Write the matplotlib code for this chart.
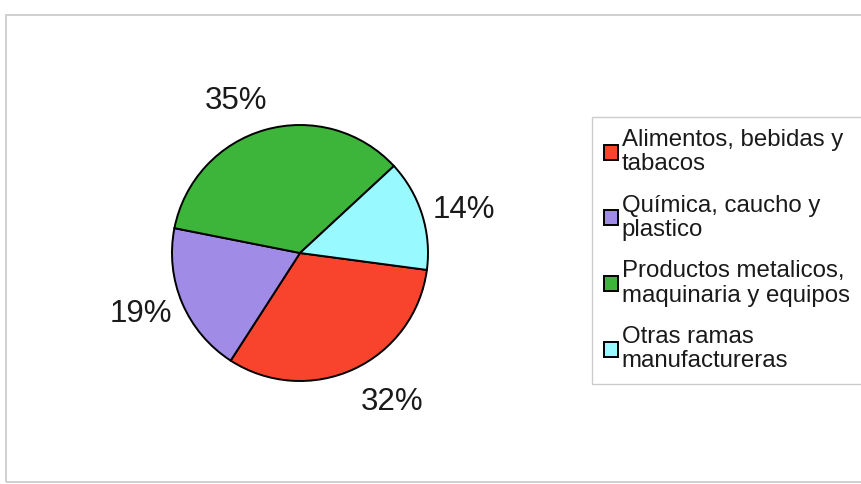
import matplotlib
matplotlib.use("Agg")
import numpy as np
import matplotlib.pyplot as plt
import matplotlib.patches as patches

plt.rcParams['font.family'] = ['Liberation Sans', 'DejaVu Sans']

# Participación por rama de la industria manufacturera
ramas = ['Alimentos, bebidas y\ntabacos',
         'Química, caucho y\nplastico',
         'Productos metalicos,\nmaquinaria y equipos',
         'Otras ramas\nmanufactureras']
porcentajes = [32, 19, 35, 14]
colores = ['#F8442C', '#A08CE6', '#3DB43A', '#98FAFF']

W, H = 862, 484
fig = plt.figure(figsize=(W / 100, H / 100), dpi=100)
fig.patch.set_facecolor('white')

# marco del área del gráfico
fig.add_artist(patches.Rectangle((6 / W, 2 / H), 1.0, (H - 17) / H,
                                 transform=fig.transFigure, fill=False,
                                 edgecolor='#C8C8C8', linewidth=1.2))

# ejes en píxeles: centro (300, 253), radio 128 px
cx, cy, half = 300, H - 253, 200
ax = fig.add_axes([(cx - half) / W, (cy - half) / H, 2 * half / W, 2 * half / H])
wedges, _, autotexts = ax.pie(
    porcentajes, colors=colores, startangle=-7.6, counterclock=False,
    autopct='%1.0f%%', pctdistance=1.32,
    wedgeprops=dict(edgecolor='black', linewidth=1.4),
    textprops=dict(fontsize=22.5, color='#1A1A1A'))

# reubicar las etiquetas de porcentaje alrededor del círculo
giro = [7, -2, 7, -3]        # grados sobre el ángulo medio
dist = [1.37, 1.33, 1.29, 1.32]
for w, t, g, d in zip(wedges, autotexts, giro, dist):
    ang = np.deg2rad((w.theta1 + w.theta2) / 2 + g)
    t.set_position((d * np.cos(ang), d * np.sin(ang)))

lim = half / 128
ax.set_xlim(-lim, lim)
ax.set_ylim(-lim, lim)
ax.axis('off')

leg = fig.legend(wedges, ramas, loc='upper left',
                 bbox_to_anchor=(592 / W, 1 - 117 / H),
                 fontsize=17.3, frameon=True, fancybox=False,
                 edgecolor='#C0C0C0', handlelength=0.58, handleheight=0.58,
                 handletextpad=0.15, labelspacing=0.82, borderpad=0.5,
                 borderaxespad=0)
leg.get_frame().set_linewidth(1.0)
for t in leg.get_texts():
    t.set_color('#1A1A1A')
    t.set_linespacing(1.12)

fig.savefig('out.png', dpi=100, facecolor='white')
